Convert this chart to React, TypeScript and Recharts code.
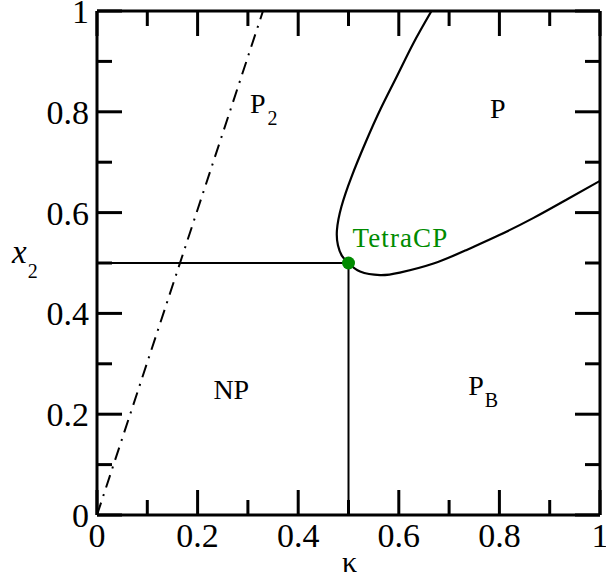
import React from "react";
import {
  ComposedChart,
  Line,
  Scatter,
  XAxis,
  YAxis,
  ReferenceDot,
} from "recharts";

// phase boundaries (kappa, x2)
const dashKappa = [0, 0.33];
const dashX2 = [0, 1];

const hLineKappa = [0, 0.5];
const hLineX2 = [0.5, 0.5];

const vLineKappa = [0.5, 0.5];
const vLineX2 = [0, 0.5];

const curveKappa = [
  0.665, 0.629, 0.596, 0.563, 0.533, 0.506, 0.486, 0.477, 0.479, 0.487, 0.5,
  0.523, 0.563, 0.602, 0.669, 0.735, 0.801, 0.867, 0.934, 1.0,
];
const curveX2 = [
  1.0, 0.936, 0.87, 0.804, 0.737, 0.671, 0.612, 0.565, 0.535, 0.514, 0.5,
  0.483, 0.476, 0.481, 0.499, 0.526, 0.556, 0.589, 0.626, 0.663,
];

const tetraKappa = [0.5];
const tetraX2 = [0.5];

const ticks = [0, 0.1, 0.2, 0.3, 0.4, 0.5, 0.6, 0.7, 0.8, 0.9, 1];
const tickLabels = ["0", "", "0.2", "", "0.4", "", "0.6", "", "0.8", "", "1"];

const toRows = (k: number[], y: number[]) =>
  k.map((v, i) => ({ k: v, x2: y[i] }));

const dashData = toRows(dashKappa, dashX2);
const hLineData = toRows(hLineKappa, hLineX2);
const vLineData = toRows(vLineKappa, vLineX2);
const curveData = toRows(curveKappa, curveX2);
const tetraData = toRows(tetraKappa, tetraX2);

const FONT = "Liberation Serif, Times New Roman, serif";
const GREEN = "#008b00";

const AxisTick = ({ x, y, payload, side }: any) => {
  const i = ticks.indexOf(payload.value);
  const label = tickLabels[i] ?? "";
  const len = label !== "" ? 25 : 15;
  let line;
  if (side === "bottom") line = <line x1={x} y1={y} x2={x} y2={y - len} />;
  else if (side === "top") line = <line x1={x} y1={y} x2={x} y2={y + len} />;
  else if (side === "left") line = <line x1={x} y1={y} x2={x + len} y2={y} />;
  else line = <line x1={x} y1={y} x2={x - len} y2={y} />;
  return (
    <g>
      <g stroke="#000" strokeWidth={3}>{line}</g>
      {side === "bottom" && label && (
        <text x={x} y={y + 32} textAnchor="middle" fill="#000" style={{ fontFamily: FONT, fontSize: 34 }}>
          {label}
        </text>
      )}
      {side === "left" && label && (
        <text x={x - 8} y={y + 12} textAnchor="end" fill="#000" style={{ fontFamily: FONT, fontSize: 34 }}>
          {label}
        </text>
      )}
    </g>
  );
};

const axisLine = { stroke: "#000", strokeWidth: 3 };

const textAt = (content: React.ReactNode, anchor: string, color = "#000", size = 28, extra: any = {}) =>
  (p: any) => (
    <text x={p.cx} y={p.cy} textAnchor={anchor} fill={color} style={{ fontFamily: FONT, fontSize: size, ...extra }}>
      {content}
    </text>
  );

export default function App() {
  return (
    <div style={{ position: "absolute", left: 0, top: 0, background: "#fff" }}>
      <ComposedChart
        width={606}
        height={579}
        margin={{ top: 11, right: 6, bottom: 64, left: 97 }}
      >
        <XAxis
          dataKey="k"
          type="number"
          domain={[0, 1]}
          allowDataOverflow
          ticks={ticks}
          interval={0}
          orientation="bottom"
          mirror
          tickLine={false}
          tickSize={0}
          tickMargin={0}
          axisLine={axisLine}
          tick={(p: any) => <AxisTick {...p} side="bottom" />}
        />
        <XAxis
          xAxisId="top"
          dataKey="k"
          type="number"
          domain={[0, 1]}
          allowDataOverflow
          ticks={ticks}
          interval={0}
          orientation="top"
          mirror
          tickLine={false}
          tickSize={0}
          tickMargin={0}
          axisLine={axisLine}
          tick={(p: any) => <AxisTick {...p} side="top" />}
        />
        <YAxis
          dataKey="x2"
          type="number"
          domain={[0, 1]}
          allowDataOverflow
          ticks={ticks}
          interval={0}
          orientation="left"
          mirror
          tickLine={false}
          tickSize={0}
          tickMargin={0}
          axisLine={axisLine}
          tick={(p: any) => <AxisTick {...p} side="left" />}
        />
        <YAxis
          yAxisId="right"
          dataKey="x2"
          type="number"
          domain={[0, 1]}
          allowDataOverflow
          ticks={ticks}
          interval={0}
          orientation="right"
          mirror
          tickLine={false}
          tickSize={0}
          tickMargin={0}
          axisLine={axisLine}
          tick={(p: any) => <AxisTick {...p} side="right" />}
        />

        <Line
          data={dashData}
          dataKey="x2"
          type="linear"
          stroke="#000"
          strokeWidth={2}
          strokeDasharray="13 7 2 7"
          dot={false}
          activeDot={false}
          isAnimationActive={false}
        />
        <Line
          data={hLineData}
          dataKey="x2"
          type="linear"
          stroke="#000"
          strokeWidth={2}
          dot={false}
          activeDot={false}
          isAnimationActive={false}
        />
        <Line
          data={vLineData}
          dataKey="x2"
          type="linear"
          stroke="#000"
          strokeWidth={2}
          dot={false}
          activeDot={false}
          isAnimationActive={false}
        />
        <Line
          data={curveData}
          dataKey="x2"
          type="natural"
          stroke="#000"
          strokeWidth={2.2}
          dot={false}
          activeDot={false}
          isAnimationActive={false}
        />
        <Scatter
          data={tetraData}
          dataKey="x2"
          fill={GREEN}
          isAnimationActive={false}
          shape={(p: any) => <circle cx={p.cx} cy={p.cy} r={6.5} fill={GREEN} />}
        />

        <ReferenceDot
          x={0.304}
          y={0.798}
          r={0}
          ifOverflow="visible"
          shape={textAt(
            <>
              <tspan>P</tspan>
              <tspan dx={2} dy={12} style={{ fontSize: 20 }}>2</tspan>
            </>,
            "start"
          )}
        />
        <ReferenceDot x={0.797} y={0.788} r={0} ifOverflow="visible" shape={textAt("P", "middle")} />
        <ReferenceDot x={0.267} y={0.23} r={0} ifOverflow="visible" shape={textAt("NP", "middle")} />
        <ReferenceDot
          x={0.738}
          y={0.238}
          r={0}
          ifOverflow="visible"
          shape={textAt(
            <>
              <tspan>P</tspan>
              <tspan dx={1} dy={12} style={{ fontSize: 20 }}>B</tspan>
            </>,
            "start"
          )}
        />
        <ReferenceDot
          x={0.508}
          y={0.532}
          r={0}
          ifOverflow="visible"
          shape={textAt("TetraCP", "start", GREEN, 27, { letterSpacing: 1.1 })}
        />
        <ReferenceDot x={0.502} y={-0.113} r={0} ifOverflow="visible" shape={textAt("κ", "middle", "#000", 30)} />
        <ReferenceDot
          x={-0.169}
          y={0.5}
          r={0}
          ifOverflow="visible"
          shape={textAt(
            <>
              <tspan style={{ fontStyle: "italic" }}>x</tspan>
              <tspan dx={1} dy={15} style={{ fontSize: 20 }}>2</tspan>
            </>,
            "start",
            "#000",
            33
          )}
        />
      </ComposedChart>
    </div>
  );
}
